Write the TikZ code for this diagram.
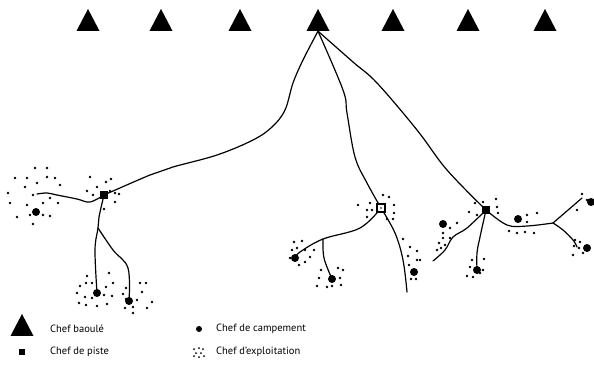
\documentclass[tikz,border=0pt]{standalone}
\usepackage{fontspec}
\setmainfont{PT Sans}
\usetikzlibrary{shapes.geometric, backgrounds}

\tikzset{
  baoule/.style={isosceles triangle, isosceles triangle stretches, shape border rotate=90,
    fill=black, inner sep=0pt, minimum width=23pt, minimum height=22pt},
  piste/.style={rectangle, fill=black, inner sep=0pt, minimum size=8pt},
  pistevide/.style={rectangle, draw=black, line width=1.7pt, fill=white, inner sep=0pt, minimum size=8pt},
  campement/.style={circle, fill=black, inner sep=0pt, minimum size=8pt},
  route/.style={line width=1.2pt, line cap=round, line join=round},
  legende/.style={anchor=west, inner sep=0pt, font=\fontsize{10.5}{12}\selectfont},
}

\begin{document}
\begin{tikzpicture}[x=1pt, y=-1pt]
  \useasboundingbox (0,0) rectangle (594,370);

  % Chefs baoule
  \foreach \n/\x in {1/88, 2/161, 3/240, 4/318, 5/393, 6/468, 7/545} {
    \node[baoule] (b\n) at (\x,24) {};
  }

  % Chefs de piste
  \node[piste] (pA) at (104,195) {};
  \node[pistevide] (pB) at (381,208) {};
  \fill (pB) circle (0.9pt);
  \node[piste] (pC) at (486,210) {};

  % Chefs de campement
  \node[campement] (cA1) at (36,212) {};
  \node[campement] (cA2) at (97,293) {};
  \node[campement] (cA3) at (129,301) {};
  \node[campement] (cB1) at (295,258) {};
  \node[campement] (cB2) at (332,279) {};
  \node[campement] (cB3) at (414,272) {};
  \node[campement] (cC1) at (443,224) {};
  \node[campement] (cC2) at (518,219) {};
  \node[campement] (cC3) at (477,270) {};
  \node[campement] (cC4) at (591,202) {};
  \node[campement] (cC5) at (587,248) {};

  % Carrefours et bouts de piste
  \coordinate (jA) at (98,228);
  \coordinate (jB) at (323,239);
  \coordinate (jC) at (553,223);
  \coordinate (eA) at (37,194);
  \coordinate (eB) at (407,292);
  \coordinate (eC1) at (433,261);
  \coordinate (eC4) at (582,198);
  \coordinate (eC5) at (577,247);

  % Pistes
  \begin{scope}[on background layer]
    \draw[route] plot[smooth, tension=0.6] coordinates {(b4.south) (303,60) (293,83) (285,110) (272,127)
      (253,140) (217,155) (173,167) (150,175) (pA)};
    \draw[route] plot[smooth, tension=0.6] coordinates {(b4.south) (343,90) (347,113) (355,157) (367,183) (pB)};
    \draw[route] plot[smooth, tension=0.6] coordinates {(b4.south) (353,62) (377,83) (417,130) (447,170) (pC)};

    \draw[route] plot[smooth, tension=0.6] coordinates {(pA) (90,202) (77,199) (57,195) (47,193) (eA)};
    \draw[route] plot[smooth, tension=0.6] coordinates {(pA) (99,217) (jA) (95,250) (cA2)};
    \draw[route] plot[smooth, tension=0.6] coordinates {(jA) (113,250) (128,268) (cA3)};

    \draw[route] plot[smooth, tension=0.6] coordinates {(pB) (360,228) (jB) (300,252) (cB1)};
    \draw[route] plot[smooth, tension=0.6] coordinates {(jB) (324,258) (cB2)};
    \draw[route] plot[smooth, tension=0.6] coordinates {(pB) (395,233) (403,260) (eB)};

    \draw[route] plot[smooth, tension=0.6] coordinates {(pC) (467,228) (453,237) (445,250) (eC1)};
    \draw[route] plot[smooth, tension=0.6] coordinates {(pC) (480,237) (477,253) (cC3)};
    \draw[route] plot[smooth, tension=0.6] coordinates {(pC) (507,225) (527,226) (jC)};
    \draw[route] (jC) -- (eC4);
    \draw[route] plot[smooth, tension=0.6] coordinates {(jC) (563,230) (573,240) (eC5)};
  \end{scope}

  % Chefs d'exploitation
  \foreach \x/\y in {15/178, 35/168, 47/168, 27/178, 47/177, 55/178, 60/185, 25/187, 37/183,
      8/193, 33/195, 50/198, 10/203, 27/205, 43/203, 58/203, 17/217, 30/215, 43/215, 50/216, 33/224,
      90/177, 106/182, 111/179, 97/187, 87/191, 93/195, 110/191, 115/193, 119/194, 115/202, 104/209,
      87/276, 109/273, 80/286, 86/283, 92/283, 106/287, 113/283, 77/293, 85/297, 92/298, 104/295,
      112/296, 79/303, 86/305, 97/306, 107/304,
      126/288, 140/283, 146/283, 123/294, 142/292, 126/299, 137/300, 152/302, 133/307, 125/308,
      147/308, 133/313} {
    \fill (\x,\y) circle (1.3pt);
  }
  \foreach \x/\y in {358/205, 370/203, 383/195, 389/197, 394/205, 367/210, 372/210, 394/213, 387/219,
      393/219, 367/217,
      294/242, 302/241, 292/250, 297/248, 305/250, 314/250, 310/257, 290/258, 299/265, 305/262,
      321/270, 338/268, 343/270, 319/278, 340/278, 317/286, 327/287, 332/286, 341/285,
      403/239, 410/247, 417/251, 408/256, 417/260, 420/260, 409/265, 411/279, 416/279} {
    \fill (\x,\y) circle (1.3pt);
  }
  \foreach \x/\y in {475/203, 483/202, 496/199, 497/207, 469/212, 477/215, 498/213,
      450/228, 457/223, 443/233, 443/238, 450/238, 439/243, 445/245, 441/248, 437/250,
      527/215, 537/213, 527/222, 509/231, 517/233, 525/232, 534/233,
      472/260, 484/259, 470/267, 483/270, 467/276, 473/277, 480/273,
      582/194, 587/200, 577/210,
      575/240, 580/242, 574/246, 579/248, 573/255, 583/253} {
    \fill (\x,\y) circle (1.3pt);
  }

  % Legende
  \node[baoule] (lb) at (22,329) {};
  \node[legende] (tb) at (50,329) {Chef baoulé};
  \node[piste, minimum size=6.5pt] (lp) at (22,352) {};
  \node[legende] (tp) at (50,352) {Chef de piste};
  \node[campement, minimum size=6pt] (lc) at (199,329) {};
  \node[legende] (tc) at (216,329) {Chef de campement};
  \coordinate (le) at (199,352);
  \foreach \x/\y in {-5/-3, 0/-4, 4/-3, -3/1, 2/1, -5/4, 0/5, 5/4} {
    \fill[shift={(le)}] (\x,\y) circle (1pt);
  }
  \node[legende] (te) at (216,352) {Chef d'exploitation};
\end{tikzpicture}
\end{document}
